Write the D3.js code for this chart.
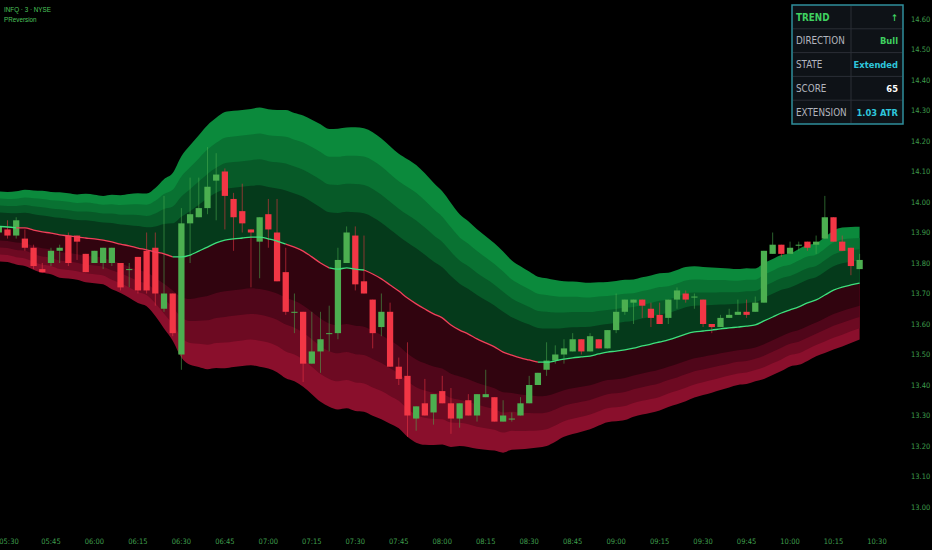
<!DOCTYPE html>
<html>
<head>
<meta charset="utf-8">
<script src="https://cdn.jsdelivr.net/npm/d3@7"></script>
<style>
  body { margin: 0; background: #000; }
  svg { display: block; }
  .axis text { font-family: "Liberation Sans Narrow", "DejaVu Sans Condensed", sans-serif; font-size: 7.5px; fill: #3f9e4c; }
  .tbl { font-family: "Liberation Sans Narrow", "DejaVu Sans Condensed", sans-serif; }
</style>
</head>
<body>
<div id="chart"></div>
<script>
var w = 932, h = 550;

// bars every 3 minutes starting 05:27
var startTime = "05:27";
var barMinutes = 3;

var open  = [13.90,13.91,13.89,13.88,13.85,13.78,13.80,13.84,13.89,13.89,13.83,13.80,13.80,13.80,13.80,13.78,13.82,13.84,13.85,13.65,13.70,
  13.50,13.93,13.95,13.98,14.07,14.10,14.01,13.97,13.91,13.87,13.96,13.90,13.77,13.64,13.64,13.47,13.51,13.57,13.57,13.80,
  13.89,13.74,13.68,13.59,13.64,13.46,13.43,13.29,13.34,13.31,13.38,13.34,13.29,13.35,13.30,13.36,13.36,13.28,13.29,13.30,
  13.34,13.40,13.45,13.48,13.50,13.51,13.55,13.51,13.55,13.52,13.58,13.64,13.67,13.68,13.65,13.63,13.62,13.68,13.70,13.69,
  13.68,13.60,13.59,13.62,13.63,13.64,13.64,13.67,13.83,13.86,13.83,13.86,13.87,13.86,13.88,13.95,13.87,13.85,13.78];
var high  = [13.93,13.94,13.95,13.91,13.86,13.80,13.85,13.86,13.90,13.89,13.83,13.84,13.85,13.85,13.80,13.80,13.82,13.90,13.90,14.02,13.70,
  13.98,14.08,14.08,14.18,14.16,14.11,14.03,14.06,13.91,13.95,14.01,14.01,13.85,13.70,13.64,13.64,13.64,13.66,13.85,13.92,
  13.92,13.89,13.68,13.70,13.67,13.49,13.54,13.33,13.42,13.37,13.43,13.39,13.34,13.37,13.37,13.45,13.36,13.35,13.31,13.36,
  13.43,13.44,13.54,13.53,13.55,13.57,13.55,13.57,13.55,13.58,13.70,13.68,13.68,13.68,13.67,13.67,13.68,13.72,13.71,13.70,
  13.68,13.60,13.63,13.65,13.68,13.68,13.69,13.84,13.90,13.86,13.87,13.87,13.87,13.89,14.02,13.95,13.89,13.85,13.83];
var low   = [13.89,13.88,13.88,13.84,13.78,13.77,13.79,13.80,13.79,13.81,13.77,13.80,13.78,13.79,13.71,13.72,13.70,13.70,13.66,13.64,13.56,
  13.45,13.80,13.95,13.96,13.94,13.91,13.84,13.90,13.72,13.75,13.85,13.74,13.63,13.57,13.41,13.47,13.44,13.51,13.55,13.80,
  13.71,13.70,13.52,13.56,13.46,13.40,13.23,13.25,13.30,13.27,13.34,13.24,13.26,13.30,13.28,13.36,13.28,13.28,13.28,13.30,
  13.34,13.40,13.43,13.47,13.47,13.51,13.50,13.51,13.52,13.52,13.57,13.63,13.60,13.62,13.59,13.60,13.60,13.65,13.67,13.65,
  13.59,13.57,13.59,13.62,13.63,13.62,13.64,13.67,13.83,13.82,13.83,13.84,13.84,13.83,13.88,13.87,13.84,13.76,13.78];
var close = [13.92,13.89,13.94,13.85,13.79,13.77,13.84,13.85,13.80,13.87,13.77,13.84,13.85,13.85,13.72,13.78,13.71,13.71,13.70,13.70,13.57,
  13.93,13.96,13.98,14.05,14.09,14.02,13.95,13.93,13.90,13.95,13.91,13.74,13.64,13.64,13.47,13.51,13.55,13.57,13.81,13.90,
  13.73,13.70,13.57,13.64,13.46,13.42,13.30,13.33,13.30,13.37,13.34,13.29,13.34,13.30,13.37,13.37,13.28,13.30,13.29,13.34,
  13.40,13.44,13.48,13.50,13.52,13.55,13.51,13.56,13.52,13.58,13.64,13.68,13.68,13.66,13.62,13.60,13.68,13.71,13.68,13.69,
  13.60,13.59,13.62,13.63,13.64,13.63,13.67,13.84,13.86,13.83,13.85,13.86,13.85,13.87,13.95,13.87,13.84,13.79,13.81];

// reversion basis line and band unit (price) per bar
var mid = [13.920,13.918,13.915,13.915,13.908,13.902,13.898,13.892,13.889,13.885,13.882,13.879,13.875,13.869,13.862,13.856,13.849,13.843,13.836,13.830,13.820,
  13.820,13.826,13.839,13.852,13.866,13.875,13.879,13.882,13.885,13.885,13.879,13.872,13.862,13.852,13.839,13.820,13.800,13.784,13.780,13.784,
  13.780,13.777,13.764,13.748,13.728,13.708,13.685,13.666,13.649,13.633,13.620,13.597,13.580,13.567,13.551,13.538,13.525,13.508,13.498,13.489,
  13.482,13.475,13.475,13.479,13.485,13.489,13.492,13.495,13.502,13.508,13.511,13.515,13.521,13.528,13.534,13.541,13.548,13.557,13.567,13.574,
  13.577,13.580,13.584,13.587,13.590,13.593,13.597,13.610,13.623,13.636,13.646,13.656,13.669,13.679,13.695,13.711,13.721,13.728,13.734];
var unit = [0.023,0.023,0.024,0.025,0.026,0.027,0.027,0.028,0.028,0.028,0.029,0.029,0.029,0.031,0.032,0.034,0.036,0.037,0.042,0.049,0.055,
  0.066,0.072,0.076,0.080,0.082,0.084,0.084,0.084,0.084,0.085,0.085,0.086,0.088,0.088,0.089,0.090,0.091,0.091,0.092,0.092,
  0.093,0.093,0.093,0.092,0.091,0.090,0.091,0.091,0.089,0.086,0.083,0.080,0.076,0.074,0.072,0.070,0.068,0.066,0.062,0.060,
  0.058,0.056,0.055,0.053,0.051,0.050,0.049,0.048,0.047,0.046,0.046,0.046,0.045,0.045,0.045,0.045,0.044,0.044,0.044,0.043,
  0.042,0.041,0.040,0.039,0.038,0.038,0.037,0.038,0.038,0.038,0.037,0.038,0.038,0.037,0.038,0.039,0.039,0.038,0.037];

var bandMult = [5, 4, 3, 2];
var upColors = ["#0b8a3c", "#097232", "#075a28", "#053a1b"];
var dnColors = ["#8a0f2c", "#6d0a22", "#50061a", "#31040f"];

// trend state changes (time, state)
var trendFlips = [["05:27", "bull"], ["05:36", "bear"], ["06:30", "bull"], ["07:09", "bear"],
                  ["07:24", "bull"], ["07:36", "bear"], ["08:36", "bull"]];

var xTicks = ["05:30","05:45","06:00","06:15","06:30","06:45","07:00","07:15","07:30","07:45","08:00",
              "08:15","08:30","08:45","09:00","09:15","09:30","09:45","10:00","10:15","10:30"];
var yTicks = [13.00,13.10,13.20,13.30,13.40,13.50,13.60,13.70,13.80,13.90,14.00,14.10,14.20,14.30,14.40,14.50,14.60];

var tblLabels = ["TREND", "DIRECTION", "STATE", "SCORE", "EXTENSION"];
var tblValues = ["↑", "Bull", "Extended", "65", "1.03 ATR"];
var tblLabelColors = ["#3fd160", "#b2b5be", "#b2b5be", "#b2b5be", "#b2b5be"];
var tblValueColors = ["#3fd160", "#3fd160", "#2ec6dc", "#ffffff", "#2ec6dc"];

var parseT = d3.timeParse("%H:%M");
var t0 = parseT(startTime);
var data = open.map(function(d, i) {
  return { t: d3.timeMinute.offset(t0, i * barMinutes), o: d, h: high[i], l: low[i], c: close[i], m: mid[i], u: unit[i] };
});
var flips = trendFlips.map(function(f) { return { t: parseT(f[0]), s: f[1] }; });
data.forEach(function(d) {
  var s = "bull";
  flips.forEach(function(f) { if (f.t <= d.t) s = f.s; });
  d.s = s;
});

var x = d3.scaleTime()
  .domain([parseT("05:30"), parseT("10:30")])
  .range([7.5, 877]);
var y = d3.scaleLinear()
  .domain([13.0, 14.6])
  .range([507, 19]);
var barW = (x(parseT("05:33")) - x(parseT("05:30"))) * 0.72;

var svg = d3.select("#chart")
  .append("svg")
  .attr("width", w)
  .attr("height", h)
  .style("background", "#000");

svg.append("defs").append("clipPath").attr("id", "plot")
  .append("rect").attr("x", 0).attr("y", 0).attr("width", 905).attr("height", 525);

var plot = svg.append("g").attr("clip-path", "url(#plot)");

// bands
bandMult.forEach(function(k, j) {
  plot.append("path")
    .datum(data)
    .attr("fill", upColors[j])
    .attr("d", d3.area()
      .x(function(d) { return x(d.t); })
      .y0(function(d) { return y(d.m); })
      .y1(function(d) { return y(d.m + k * d.u); })
      .curve(d3.curveMonotoneX));
  plot.append("path")
    .datum(data)
    .attr("fill", dnColors[j])
    .attr("d", d3.area()
      .x(function(d) { return x(d.t); })
      .y0(function(d) { return y(d.m); })
      .y1(function(d) { return y(d.m - k * d.u); })
      .curve(d3.curveMonotoneX));
});

// candles
var candle = plot.selectAll("g.candle")
  .data(data)
  .enter()
  .append("g")
  .attr("class", "candle");

candle.append("line")
  .attr("x1", function(d) { return x(d.t); })
  .attr("x2", function(d) { return x(d.t); })
  .attr("y1", function(d) { return y(d.h); })
  .attr("y2", function(d) { return y(d.l); })
  .attr("stroke", function(d) { return d.c >= d.o ? "#4caf50" : "#f23645"; })
  .attr("stroke-opacity", 0.55)
  .attr("stroke-width", 1);

candle.append("rect")
  .attr("x", function(d) { return x(d.t) - barW / 2; })
  .attr("width", barW)
  .attr("y", function(d) { return y(Math.max(d.o, d.c)); })
  .attr("height", function(d) { return Math.max(1, Math.abs(y(d.o) - y(d.c))); })
  .attr("fill", function(d) { return d.c >= d.o ? "#4caf50" : "#f23645"; });

// basis line, coloured by trend state
var line = d3.line()
  .x(function(d) { return x(d.t); })
  .y(function(d) { return y(d.m); })
  .curve(d3.curveMonotoneX);
var runs = [];
data.forEach(function(d, i) {
  if (i === 0 || d.s !== data[i - 1].s) runs.push({ s: d.s, pts: i > 0 ? [data[i - 1]] : [] });
  runs[runs.length - 1].pts.push(d);
});
plot.selectAll("path.basis")
  .data(runs)
  .enter()
  .append("path")
  .attr("class", "basis")
  .attr("fill", "none")
  .attr("stroke", function(r) { return r.s === "bull" ? "#3de07c" : "#f0405a"; })
  .attr("stroke-width", 1.3)
  .attr("d", function(r) { return line(r.pts); });

// axes
var gy = svg.append("g").attr("class", "axis");
gy.selectAll("text")
  .data(yTicks)
  .enter()
  .append("text")
  .attr("x", 911)
  .attr("y", function(d) { return y(d) + 2.7; })
  .text(function(d) { return d.toFixed(2); });

var gx = svg.append("g").attr("class", "axis");
gx.selectAll("text")
  .data(xTicks)
  .enter()
  .append("text")
  .attr("x", function(d) { return Math.max(9, x(parseT(d))); })
  .attr("y", 544)
  .attr("text-anchor", "middle")
  .text(function(d) { return d; });

// title
svg.append("text").attr("x", 4).attr("y", 12)
  .style("font-family", "'Liberation Sans Narrow', sans-serif")
  .style("font-size", "6.3px").style("fill", "#4cc35c").text("INFQ · 3 · NYSE");
svg.append("text").attr("x", 4).attr("y", 22)
  .style("font-family", "'Liberation Sans Narrow', sans-serif")
  .style("font-size", "6.3px").style("fill", "#4cc35c").text("PReversion");

// status table
var tx = 792, ty = 5, tw = 111, th = 119, rowH = th / tblLabels.length, colX = 851;
var tbl = svg.append("g").attr("class", "tbl");
tbl.append("rect")
  .attr("x", tx).attr("y", ty).attr("width", tw).attr("height", th)
  .attr("fill", "#0e1217").attr("stroke", "#2f8e9c").attr("stroke-width", 1.5);
tbl.selectAll("line.row")
  .data(d3.range(1, tblLabels.length))
  .enter()
  .append("line")
  .attr("x1", tx + 1).attr("x2", tx + tw - 1)
  .attr("y1", function(d) { return ty + d * rowH; })
  .attr("y2", function(d) { return ty + d * rowH; })
  .attr("stroke", "#2a2e36").attr("stroke-width", 1);
tbl.append("line")
  .attr("x1", colX).attr("x2", colX).attr("y1", ty + 1).attr("y2", ty + th - 1)
  .attr("stroke", "#2a2e36").attr("stroke-width", 1);
tbl.selectAll("text.lab")
  .data(tblLabels)
  .enter()
  .append("text")
  .attr("class", "lab")
  .attr("x", tx + 4)
  .attr("y", function(d, i) { return ty + i * rowH + rowH / 2 + 3.6; })
  .attr("fill", function(d, i) { return tblLabelColors[i]; })
  .attr("font-weight", function(d, i) { return i === 0 ? "bold" : "normal"; })
  .style("font-size", "9.8px")
  .text(function(d) { return d; });
tbl.selectAll("text.val")
  .data(tblValues)
  .enter()
  .append("text")
  .attr("class", "val")
  .attr("x", tx + tw - 5)
  .attr("y", function(d, i) { return ty + i * rowH + rowH / 2 + 3.6; })
  .attr("text-anchor", "end")
  .attr("fill", function(d, i) { return tblValueColors[i]; })
  .attr("font-weight", "bold")
  .style("font-size", "9.3px")
  .text(function(d) { return d; });
</script>
</body>
</html>
